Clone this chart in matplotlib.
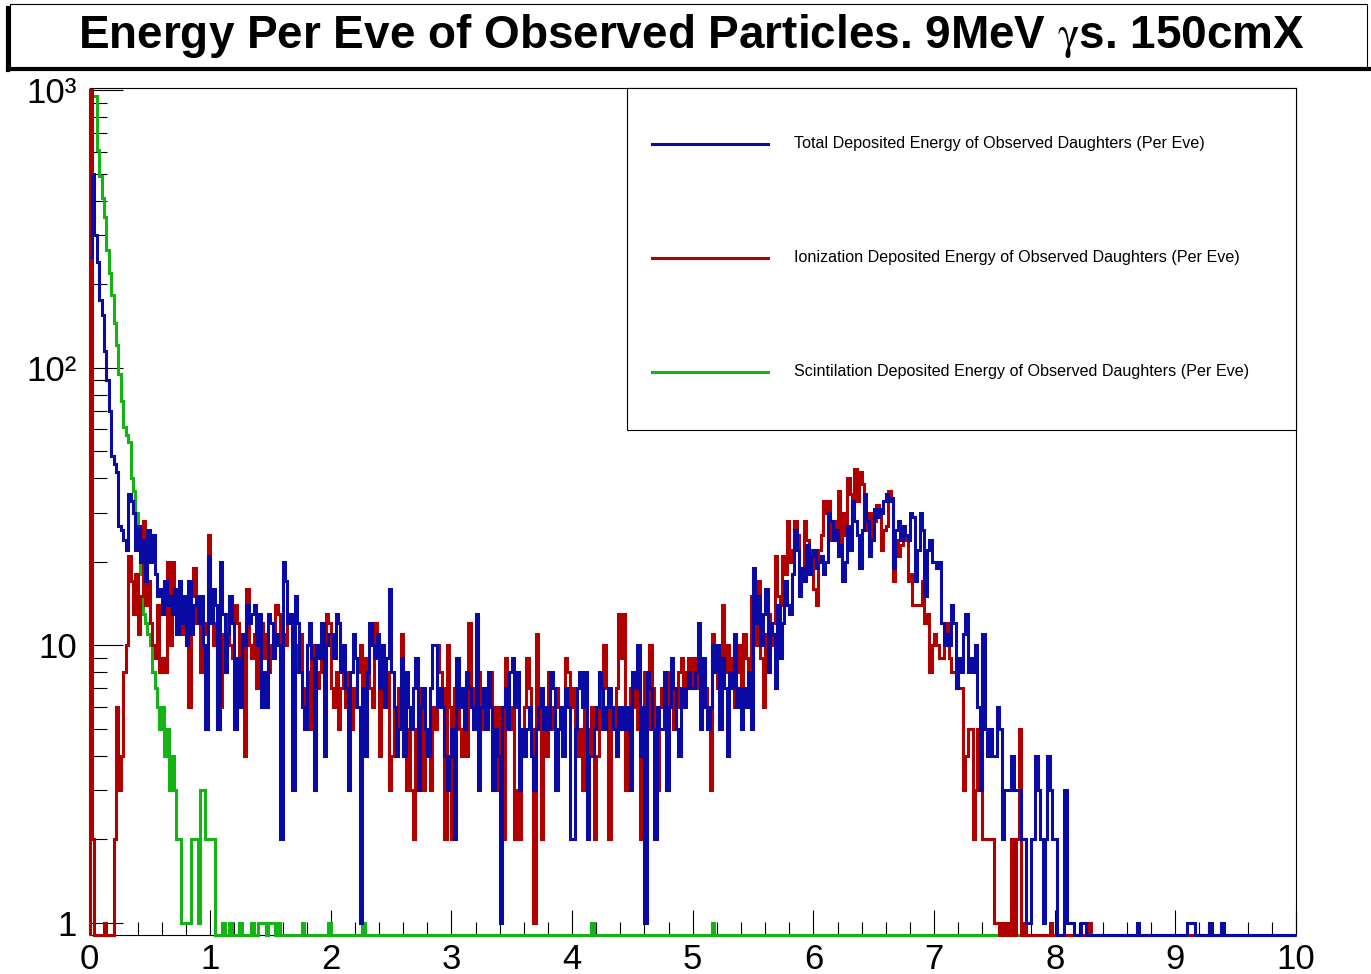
import numpy as np
import matplotlib.pyplot as plt
from matplotlib.patches import Rectangle
from matplotlib.lines import Line2D
from matplotlib.ticker import FixedLocator, FixedFormatter, LogLocator, NullFormatter

plt.rcParams['font.family'] = ['Liberation Sans', 'DejaVu Sans']
plt.rcParams['mathtext.fontset'] = 'stix'
narrow = ['Liberation Sans Narrow', 'Liberation Sans', 'DejaVu Sans']

# 500 bins from 0 to 10 (bin width 0.02), counts, 25 bins per row
total_counts = np.array(
    [250, 500, 300, 240, 175, 155, 115, 90, 70, 48, 45, 42, 27, 26, 24, 22, 35, 33, 30, 22, 27, 20, 24, 17, 26]
    + [20, 25, 18, 15, 16, 13, 17, 14, 15, 13, 16, 11, 17, 12, 15, 10, 17, 11, 14, 15, 12, 15, 10, 5, 21]
    + [12, 16, 14, 5, 20, 13, 8, 11, 15, 12, 5, 9, 6, 11, 10, 14, 12, 13, 14, 10, 13, 6, 8, 6, 13]
    + [12, 9, 11, 10, 2, 20, 17, 12, 13, 3, 15, 12, 8, 6, 5, 10, 12, 9, 3, 10, 9, 12, 4, 10, 11]
    + [11, 9, 13, 12, 8, 10, 7, 3, 8, 11, 9, 6, 1, 7, 4, 8, 12, 10, 9, 11, 7, 10, 6, 9, 16]
    + [8, 6, 4, 5, 9, 4, 8, 6, 5, 7, 9, 3, 6, 7, 5, 4, 7, 10, 10, 6, 7, 6, 4, 3, 4]
    + [5, 2, 9, 6, 7, 5, 8, 7, 6, 5, 13, 3, 6, 7, 5, 8, 6, 3, 5, 4, 1, 6, 7, 5, 8]
    + [9, 6, 8, 3, 5, 4, 5, 6, 4, 3, 5, 6, 7, 5, 6, 5, 8, 7, 3, 5, 6, 4, 7, 6, 2]
    + [2, 5, 7, 8, 6, 8, 2, 4, 4, 5, 6, 8, 7, 5, 6, 7, 6, 5, 4, 6, 5, 6, 5, 6, 3]
    + [8, 7, 10, 4, 6, 1, 8, 7, 5, 2, 6, 5, 5, 8, 3, 6, 9, 7, 5, 4, 7, 6, 7, 8, 7]
    + [7, 8, 12, 5, 9, 6, 5, 6, 10, 8, 10, 5, 9, 7, 4, 8, 7, 11, 6, 7, 5, 7, 6, 8, 5]
    + [19, 12, 15, 10, 13, 16, 8, 12, 11, 7, 14, 9, 12, 17, 14, 13, 18, 26, 22, 15, 19, 17, 23, 18, 21]
    + [22, 19, 20, 21, 18, 20, 30, 28, 24, 26, 21, 23, 17, 20, 27, 22, 33, 28, 25, 19, 26, 35, 28, 21, 24]
    + [31, 29, 31, 30, 33, 35, 33, 34, 19, 26, 28, 24, 27, 25, 24, 30, 29, 17, 22, 30, 26, 15, 22, 24, 20]
    + [20, 19, 20, 12, 10, 11, 10, 14, 12, 7, 9, 8, 11, 13, 8, 9, 8, 10, 6, 3, 11, 5, 4, 5, 4]
    + [4, 6, 5, 2, 3, 3, 3, 4, 3, 3, 3, 2, 2, 1, 1, 2, 2, 4, 3, 2, 1, 2, 4, 3, 2]
    + [2, 0, 0, 0, 3, 1, 1, 1, 0, 0, 0, 1, 1, 0, 0, 0, 0, 0, 0, 0, 0, 0, 0, 0, 0]
    + [0, 0, 0, 0, 0, 0, 0, 0, 0, 1, 0, 0, 0, 0, 0, 0, 0, 0, 0, 0, 0, 0, 0, 0, 0]
    + [0, 0, 0, 0, 0, 1, 1, 1, 0, 0, 0, 0, 0, 0, 1, 0, 0, 0, 0, 1, 0, 0, 0, 0, 0]
    + [0, 0, 0, 0, 0, 0, 0, 0, 0, 0, 0, 0, 0, 0, 0, 0, 0, 0, 0, 0, 0, 0, 0, 0, 0]
)

ion_counts = np.array(
    [1000, 2, 0, 0, 0, 0, 1, 0, 0, 0, 2, 6, 3, 4, 8, 10, 21, 17, 13, 18, 11, 15, 28, 14, 17]
    + [12, 10, 9, 14, 8, 9, 8, 20, 10, 20, 13, 12, 14, 11, 13, 10, 6, 15, 19, 12, 13, 8, 12, 11, 25]
    + [15, 10, 12, 5, 6, 11, 9, 13, 10, 9, 14, 12, 9, 11, 4, 16, 10, 9, 11, 7, 10, 12, 9, 11, 8]
    + [10, 11, 14, 13, 9, 11, 10, 12, 12, 9, 10, 8, 11, 7, 6, 8, 5, 9, 10, 7, 8, 10, 9, 13, 12]
    + [7, 6, 8, 5, 7, 9, 6, 8, 5, 7, 6, 8, 10, 7, 9, 8, 7, 6, 12, 9, 4, 10, 7, 8, 3]
    + [4, 6, 5, 7, 11, 4, 3, 5, 3, 2, 5, 7, 6, 3, 5, 4, 3, 6, 5, 10, 8, 7, 2, 10, 6]
    + [2, 7, 9, 5, 4, 5, 4, 12, 6, 7, 5, 8, 6, 5, 7, 6, 8, 5, 6, 3, 6, 2, 9, 7, 5]
    + [6, 2, 3, 2, 4, 6, 9, 7, 5, 1, 11, 6, 2, 5, 4, 8, 6, 5, 7, 6, 5, 6, 9, 8, 6]
    + [7, 5, 4, 5, 3, 6, 5, 4, 6, 2, 4, 8, 5, 10, 7, 2, 6, 5, 7, 13, 9, 13, 3, 6, 7]
    + [6, 7, 5, 2, 6, 8, 5, 10, 7, 5, 3, 6, 7, 5, 8, 6, 7, 5, 6, 8, 9, 7, 8, 9, 7]
    + [9, 8, 7, 6, 8, 7, 5, 3, 11, 8, 7, 9, 14, 8, 10, 7, 9, 6, 8, 10, 7, 11, 9, 8, 15]
    + [12, 10, 17, 9, 6, 11, 13, 10, 12, 21, 15, 14, 21, 18, 28, 20, 22, 28, 25, 19, 17, 28, 24, 20, 22]
    + [16, 14, 22, 25, 33, 30, 33, 24, 28, 26, 36, 22, 30, 25, 40, 35, 28, 43, 33, 42, 38, 26, 30, 22, 30]
    + [28, 32, 30, 22, 26, 27, 36, 34, 17, 24, 21, 23, 25, 24, 17, 18, 14, 14, 14, 14, 17, 12, 13, 8, 10]
    + [11, 10, 9, 9, 10, 12, 9, 8, 8, 7, 7, 7, 3, 4, 5, 5, 2, 3, 5, 5, 2, 2, 2, 2, 2]
    + [1, 1, 0, 1, 0, 1, 0, 2, 0, 2, 5, 0, 1, 0, 0, 0, 0, 0, 0, 0, 0, 0, 0, 1, 0]
    + [0, 0, 0, 0, 0, 0, 0, 0, 0, 0, 0, 0, 0, 0, 1, 0, 0, 0, 0, 0, 0, 0, 0, 0, 0]
    + [0, 0, 0, 0, 0, 0, 0, 0, 0, 0, 0, 0, 0, 0, 0, 0, 0, 0, 0, 0, 0, 0, 0, 0, 0]
    + [0, 0, 0, 0, 0, 0, 0, 0, 0, 0, 0, 0, 0, 0, 0, 0, 0, 0, 0, 0, 0, 0, 0, 0, 0]
    + [0, 0, 0, 0, 0, 0, 0, 0, 0, 0, 0, 0, 0, 0, 0, 0, 0, 0, 0, 0, 0, 0, 0, 0, 0]
)

scint_counts = np.array(
    [950, 950, 950, 610, 490, 410, 350, 266, 220, 183, 145, 121, 95, 76, 61, 57, 54, 40, 36, 30, 24, 18, 13, 12, 11]
    + [10, 8, 7, 6, 5, 6, 4, 5, 3, 4, 3, 2, 2, 1, 1, 1, 1, 2, 2, 2, 1, 3, 3, 2, 2]
    + [2, 2, 0, 0, 0, 1, 0, 0, 1, 0, 0, 0, 1, 0, 0, 0, 0, 1, 0, 0, 1, 1, 1, 0, 1]
    + [1, 1, 0, 1, 0, 0, 0, 0, 0, 0, 0, 0, 0, 1, 0, 0, 0, 0, 0, 0, 0, 0, 0, 0, 1]
    + [0, 0, 0, 0, 0, 0, 0, 0, 0, 0, 0, 0, 0, 1, 0, 0, 0, 0, 0, 0, 0, 0, 0, 0, 0]
    + [0] * 75
    + [0, 0, 0, 0, 0, 0, 0, 0, 1, 0, 0, 0, 0, 0, 0, 0, 0, 0, 0, 0, 0, 0, 0, 0, 0]
    + [0] * 25
    + [0, 0, 0, 0, 0, 0, 0, 0, 1, 0, 0, 0, 0, 0, 0, 0, 0, 0, 0, 0, 0, 0, 0, 0, 0]
    + [0] * 225
)

edges = np.linspace(0, 10, 501)

title = r"Energy Per Eve of Observed Particles. 9MeV $\mathrm{\gamma}$s. 150cmX"
labels = ["Total Deposited Energy of Observed Daughters (Per Eve)",
          "Ionization Deposited Energy of Observed Daughters (Per Eve)",
          "Scintilation Deposited Energy of Observed Daughters (Per Eve)"]
blue, red, green = '#0a0aa5', '#b00000', '#14b414'

ymin, ymax = 0.905, 1017
W, H = 1371, 974

fig = plt.figure(figsize=(W / 100, H / 100), dpi=100)
ax = fig.add_axes([89.5 / W, 1 - 935 / H, (1296 - 89.5) / W, (935 - 88) / H])
ax.set_yscale('log')
ax.set_xlim(0, 10)
ax.set_ylim(ymin, ymax)


def on_log(c):
    # empty bins sit on the bottom of the frame, like ROOT does
    return np.where(c > 0, c, ymin).astype(float)


lw = 2.2
ax.stairs(on_log(scint_counts), edges, baseline=ymin, color=green, lw=lw, zorder=3, clip_on=False)
ax.stairs(on_log(ion_counts), edges, baseline=ymin, color=red, lw=lw, zorder=3, clip_on=False)
ax.stairs(on_log(total_counts), edges, baseline=None, color=blue, lw=lw, zorder=3, clip_on=False)

# axes in ROOT style
for s in ax.spines.values():
    s.set_linewidth(0.8)
ax.xaxis.set_major_locator(FixedLocator(np.arange(0, 11)))
ax.xaxis.set_minor_locator(FixedLocator(np.arange(0, 10.01, 0.2)))
ax.yaxis.set_major_locator(FixedLocator([1, 10, 100, 1000]))
ax.yaxis.set_major_formatter(FixedFormatter(['1', '10', '10\u00b2', '10\u00b3']))
ax.yaxis.set_minor_locator(LogLocator(base=10, subs=np.arange(2, 10)))
ax.yaxis.set_minor_formatter(NullFormatter())
ax.tick_params(axis='x', which='major', direction='in', length=18, width=0.8, labelsize=25, pad=6)
ax.tick_params(axis='x', which='minor', direction='in', length=9.4, width=0.8)
ax.tick_params(axis='y', which='major', direction='in', length=24, width=0.8, labelsize=25, pad=9)
ax.tick_params(axis='y', which='minor', direction='in', length=12, width=0.8)

# legend box
tr = ax.transAxes
ax.add_patch(Rectangle((0.4455, 0.5962), 0.5545, 0.4038, transform=tr, facecolor='white',
                       edgecolor='black', lw=0.8, zorder=4, clip_on=False))
leg_y = [0.9339, 0.7993, 0.6647]
leg_texts = []
for yy, col, lab in zip(leg_y, [blue, red, green], labels):
    ax.add_line(Line2D([0.4662, 0.5624], [yy, yy], transform=tr, color=col, lw=lw, zorder=5))
    leg_texts.append(ax.text(0.5839, yy, lab, transform=tr, ha='left', va='center',
                             fontsize=12, family=narrow, zorder=5))

# title box with shadow
fig.add_artist(Rectangle((10 / W, 1 - 68 / H), (1367 - 10) / W, 64 / H, transform=fig.transFigure,
                         facecolor='white', edgecolor='black', lw=0.8))
fig.add_artist(Line2D([8 / W, 8 / W], [1 - 70 / H, 1 - 8 / H], transform=fig.transFigure, color='black', lw=3))
fig.add_artist(Line2D([8 / W, 1370 / W], [1 - 68.5 / H, 1 - 68.5 / H], transform=fig.transFigure,
                      color='black', lw=3))
ttl = fig.text(691 / W, 1 - 36 / H, title, ha='center', va='center', fontsize=30,
               fontweight='bold', family=narrow)

# scale text to the widths seen in the picture
fig.canvas.draw()
rend = fig.canvas.get_renderer()
w = ttl.get_window_extent(rend).width
ttl.set_fontsize(30 * 1227 / w)
w = leg_texts[0].get_window_extent(rend).width
for t in leg_texts:
    t.set_fontsize(12 * 413 / w)

fig.savefig('out.png', dpi=100)
